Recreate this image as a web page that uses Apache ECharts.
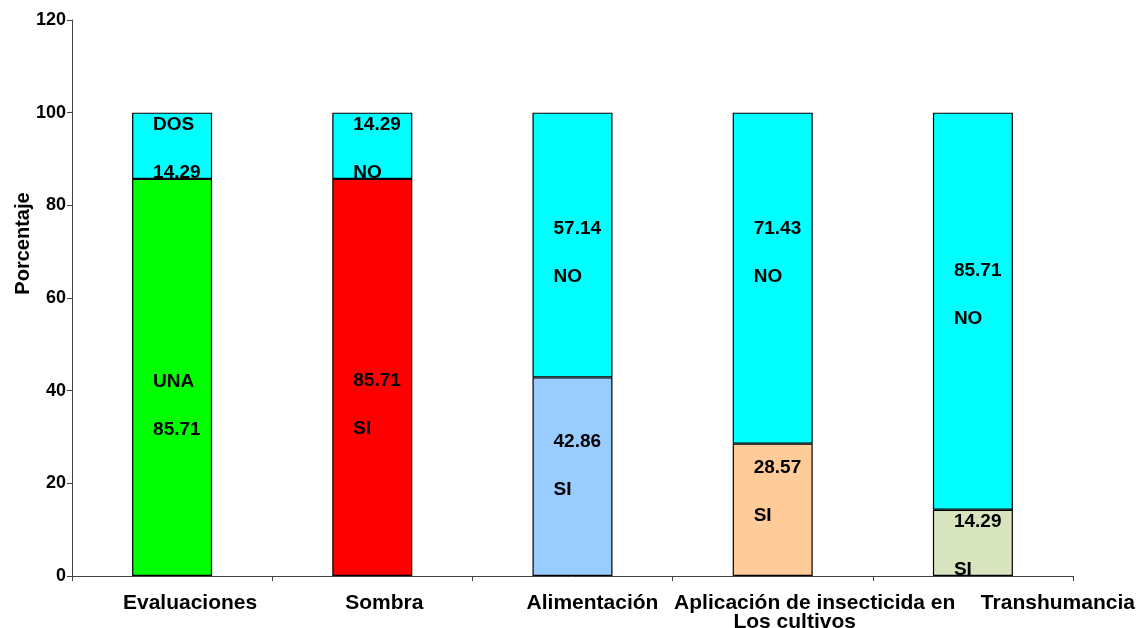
<!DOCTYPE html>
<html>
<head>
<meta charset="utf-8">
<script src="https://cdn.jsdelivr.net/npm/echarts@6/dist/echarts.min.js"></script>
<style>html,body{margin:0;padding:0;background:#fff}#c{width:1138px;height:628px}</style>
</head>
<body>
<div id="c"></div>
<script>
var categories = ['Evaluaciones', 'Sombra', 'Alimentación', 'Aplicación de insecticida en\nLos cultivos', 'Transhumancia'];
var siValues = [85.71, 85.71, 42.86, 28.57, 14.29];
var noValues = [14.29, 14.29, 57.14, 71.43, 85.71];
var siNames = ['UNA', 'SI', 'SI', 'SI', 'SI'];
var noNames = ['DOS', 'NO', 'NO', 'NO', 'NO'];
var nameFirst = [true, false, false, false, false];
var yTicks = [0, 20, 40, 60, 80, 100, 120];

// layout / style settings
var siColors = ['#00FF00', '#FF0000', '#99CCFF', '#FFCC99', '#D7E4BD'];
var noColor = '#00FFFF';
var siLabelShift = [28, 27, -11, -18, 3];
var noLabelShift = [3, 3, 8, -25, -16];
var catLabelPad = [[36], [24], [40], [84, 44], [170]];
var FONT = '"Liberation Sans", Arial, sans-serif';

var rich = {};
catLabelPad.forEach(function (pads, i) {
  pads.forEach(function (p, j) {
    rich['p' + i + '_' + j] = {padding: [0, 0, 0, p], fontSize: 21, fontWeight: 'bold', fontFamily: FONT, color: '#000', lineHeight: 19};
  });
});

function mkLabel(val, name, first) {
  var v = val.toFixed(2);
  return first ? name + '\n' + v : v + '\n' + name;
}

var labelBase = {
  show: true, position: 'insideLeft', distance: 21,
  fontSize: 19, fontWeight: 'bold', fontFamily: FONT, color: '#000', lineHeight: 48
};

var siData = siValues.map(function (v, i) {
  return {value: v, itemStyle: {color: siColors[i]},
    label: {offset: [0, siLabelShift[i]], formatter: mkLabel(v, siNames[i], nameFirst[i])}};
});
var noData = noValues.map(function (v, i) {
  return {value: v,
    label: {offset: [0, noLabelShift[i]], formatter: mkLabel(v, noNames[i], nameFirst[i])}};
});

var chart = echarts.init(document.getElementById('c'));
chart.setOption({
  animation: false,
  backgroundColor: '#fff',
  grid: {left: 72, right: 65, top: 20, bottom: 52, containLabel: false, outerBoundsMode: 'none'},
  xAxis: {
    type: 'category', data: categories,
    axisLine: {lineStyle: {color: '#404040', width: 1}},
    axisTick: {show: true, length: 5, lineStyle: {color: '#404040'}},
    axisLabel: {
      interval: 0, margin: 18, color: '#000', fontSize: 21, fontWeight: 'bold', fontFamily: FONT,
      formatter: function (value, index) {
        return value.split('\n').map(function (line, j) { return '{p' + index + '_' + j + '|' + line + '}'; }).join('\n');
      },
      rich: rich
    }
  },
  yAxis: {
    type: 'value', min: yTicks[0], max: yTicks[yTicks.length - 1], interval: 20,
    name: 'Porcentaje', nameLocation: 'middle', nameRotate: 90, nameGap: 39, nameMoveOverlap: false,
    nameTextStyle: {fontSize: 20, fontWeight: 'bold', fontFamily: FONT, color: '#000', padding: [0, 0, 0, 109]},
    axisLine: {show: true, lineStyle: {color: '#404040', width: 1}},
    axisTick: {show: true, length: 5, lineStyle: {color: '#404040'}},
    axisLabel: {margin: 6, color: '#000', fontSize: 18, fontWeight: 'bold', fontFamily: FONT},
    splitLine: {show: false}
  },
  series: [
    {type: 'bar', stack: 'a', barWidth: 80, data: siData,
      itemStyle: {borderColor: '#000', borderWidth: 1.2}, label: labelBase},
    {type: 'bar', stack: 'a', barWidth: 80, data: noData,
      itemStyle: {color: noColor, borderColor: '#000', borderWidth: 1.2}, label: labelBase}
  ]
});
</script>
</body>
</html>
